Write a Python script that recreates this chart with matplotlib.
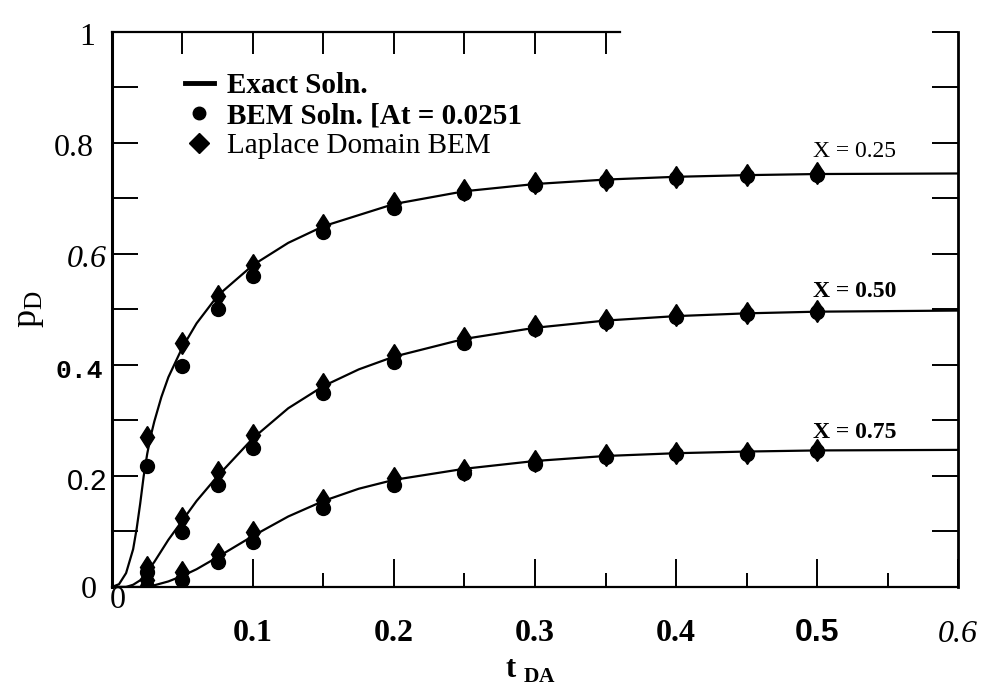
import numpy as np
import matplotlib
matplotlib.use("Agg")
import matplotlib.pyplot as plt
from matplotlib.lines import Line2D

# sample times of the BEM / Laplace points
t_pts = [0.025, 0.05, 0.075, 0.1, 0.15, 0.2, 0.25, 0.3, 0.35, 0.4, 0.45, 0.5]

# Laplace domain BEM (diamonds)
lap_025 = [0.270, 0.440, 0.525, 0.580, 0.652, 0.692, 0.715, 0.727, 0.734, 0.739, 0.743, 0.745]
lap_050 = [0.036, 0.124, 0.207, 0.274, 0.366, 0.418, 0.449, 0.470, 0.481, 0.490, 0.494, 0.497]
lap_075 = [0.013, 0.027, 0.059, 0.099, 0.157, 0.196, 0.211, 0.227, 0.238, 0.241, 0.241, 0.247]

# time domain BEM (circles)
bem_025 = [0.218, 0.398, 0.500, 0.560, 0.640, 0.683, 0.710, 0.724, 0.732, 0.737, 0.741, 0.743]
bem_050 = [0.027, 0.099, 0.184, 0.250, 0.350, 0.405, 0.440, 0.464, 0.477, 0.487, 0.491, 0.495]
bem_075 = [0.000, 0.013, 0.045, 0.081, 0.142, 0.184, 0.205, 0.222, 0.234, 0.239, 0.239, 0.245]

# exact solution curves
t_ex_025 = [0, 0.005, 0.01, 0.015, 0.0175, 0.02, 0.0225, 0.025, 0.0275, 0.03, 0.035, 0.04,
            0.05, 0.06, 0.075, 0.1, 0.125, 0.15, 0.2, 0.25, 0.3, 0.35, 0.4, 0.45, 0.5, 0.6]
ex_025 = [0, 0.005, 0.025, 0.068, 0.105, 0.15, 0.2, 0.24, 0.272, 0.298, 0.342, 0.378,
          0.432, 0.475, 0.525, 0.58, 0.62, 0.65, 0.69, 0.713, 0.726, 0.734, 0.739, 0.742,
          0.744, 0.745]
t_ex_050 = [0, 0.01, 0.015, 0.02, 0.025, 0.03, 0.04, 0.05, 0.06, 0.075, 0.1, 0.125, 0.15,
            0.175, 0.2, 0.25, 0.3, 0.35, 0.4, 0.45, 0.5, 0.6]
ex_050 = [0, 0.0, 0.004, 0.012, 0.028, 0.045, 0.085, 0.12, 0.155, 0.2, 0.268, 0.322, 0.362,
          0.392, 0.415, 0.447, 0.467, 0.48, 0.488, 0.493, 0.496, 0.498]
t_ex_075 = [0, 0.02, 0.03, 0.04, 0.05, 0.06, 0.075, 0.1, 0.125, 0.15, 0.175, 0.2, 0.25,
            0.3, 0.35, 0.4, 0.45, 0.5, 0.6]
ex_075 = [0, 0.0, 0.003, 0.01, 0.02, 0.032, 0.054, 0.092, 0.127, 0.155, 0.177, 0.193, 0.213,
          0.227, 0.236, 0.241, 0.244, 0.246, 0.247]

curve_labels = ["X = 0.25", "X = 0.50", "X = 0.75"]
label_y = [0.784, 0.532, 0.279]

x_ticks = [0, 0.1, 0.2, 0.3, 0.4, 0.5, 0.6]
x_tick_text = ["0", "0.1", "0.2", "0.3", "0.4", "0.5", "0.6"]
y_ticks = [0, 0.2, 0.4, 0.6, 0.8, 1.0]
y_tick_text = ["0", "0.2", "0.4", "0.6", "0.8", "1"]
top_ticks = [0.05, 0.1, 0.15, 0.2, 0.25, 0.3, 0.35]

SERIF = "Liberation Serif"

fig = plt.figure(figsize=(9.84, 6.87), dpi=100)
ax = fig.add_axes([0.1138, 0.1456, 0.8598, 0.8079])

lw = 1.6
for t_ex, ex in [(t_ex_025, ex_025), (t_ex_050, ex_050), (t_ex_075, ex_075)]:
    ax.plot(t_ex, ex, color="black", lw=lw, zorder=2)
for bem in [bem_025, bem_050, bem_075]:
    ax.plot(t_pts, bem, "o", color="black", ms=10, zorder=3)
for lap in [lap_025, lap_050, lap_075]:
    ax.plot(t_pts, lap, "d", color="black", ms=11.5, zorder=4)

ax.set_xlim(0, 0.6)
ax.set_ylim(0, 1.0)

# ticks (labels drawn as text below so each can keep its own look)
ax.set_xticks(np.arange(0, 0.61, 0.1))
ax.set_xticks(np.arange(0.05, 0.6, 0.1), minor=True)
ax.set_yticks(np.arange(0, 1.01, 0.1))
ax.tick_params(which="major", direction="in", length=20, width=1.4,
               labelbottom=False, labelleft=False, right=True)
ax.tick_params(which="minor", direction="in", length=10, width=1.4)
ax.tick_params(axis="y", which="major", length=19)
for s in ax.spines.values():
    s.set_linewidth(1.6)
ax.spines["left"].set_linewidth(2.2)
ax.spines["right"].set_linewidth(2.0)
ax.spines["top"].set_bounds(0, 0.36)

# top ticks only along the part of the frame that is drawn
sec = ax.secondary_xaxis("top")
sec.set_xticks(top_ticks)
sec.tick_params(direction="in", length=16, width=1.4, labeltop=False)
sec.spines["top"].set_visible(False)

xt = ax.get_xaxis_transform()
yt = ax.get_yaxis_transform()
x_styles = [
    dict(family=SERIF, weight="normal", style="normal", y=-0.025),
    dict(family=SERIF, weight="bold", style="normal", y=-0.083),
    dict(family=SERIF, weight="bold", style="normal", y=-0.083),
    dict(family=SERIF, weight="bold", style="normal", y=-0.083),
    dict(family=SERIF, weight="bold", style="normal", y=-0.083),
    dict(family="Liberation Sans", weight="bold", style="normal", y=-0.083),
    dict(family=SERIF, weight="normal", style="italic", y=-0.086),
]
for xv, txt, st in zip(x_ticks, x_tick_text, x_styles):
    xx = xv + 0.004 if xv == 0 else xv
    ax.text(xx, st["y"], txt, transform=xt, ha="center", va="center",
            fontsize=23, family=st["family"], weight=st["weight"], style=st["style"])

y_styles = [
    dict(family=SERIF, weight="normal", style="normal", x=-0.018, size=23),
    dict(family="Liberation Sans", weight="normal", style="normal", x=-0.005, size=21),
    dict(family="Liberation Mono", weight="bold", style="normal", x=-0.011, size=19),
    dict(family=SERIF, weight="normal", style="italic", x=-0.006, size=23),
    dict(family=SERIF, weight="normal", style="normal", x=-0.022, size=23),
    dict(family=SERIF, weight="normal", style="normal", x=-0.02, size=23),
]
for yv, txt, st in zip(y_ticks, y_tick_text, y_styles):
    yy = yv - 0.006 if yv == 0 else yv - 0.01
    ax.text(st["x"], yy, txt, transform=yt, ha="right", va="center",
            fontsize=st["size"], family=st["family"], weight=st["weight"], style=st["style"])

ax.text(-0.098, 0.5, r"p$_\mathregular{D}$", transform=ax.transAxes, rotation=90,
        ha="center", va="center", fontsize=26, family=SERIF)
ax.text(0.495, -0.15, r"t $_\mathregular{DA}$", transform=ax.transAxes,
        ha="center", va="center", fontsize=22, family=SERIF, weight="bold")

label_weights = ["normal", "bold", "bold"]
for lab, yv, w in zip(curve_labels, label_y, label_weights):
    ax.text(0.497, yv, lab, ha="left", va="center", fontsize=17, family=SERIF, weight=w)

handles = [
    Line2D([], [], color="black", lw=3.5),
    Line2D([], [], marker="o", color="black", ls="none", ms=9),
    Line2D([], [], marker="D", color="black", ls="none", ms=10),
]
leg = ax.legend(handles, ["Exact Soln.", "BEM Soln. [At = 0.0251", "Laplace Domain BEM"],
                loc="upper left", bbox_to_anchor=(0.055, 0.975), frameon=False,
                handlelength=1.0, handletextpad=0.45, labelspacing=0.12,
                prop=dict(family=SERIF, size=21, weight="bold"))
leg.get_texts()[2].set_fontweight("normal")

fig.savefig("out.png", dpi=100)
